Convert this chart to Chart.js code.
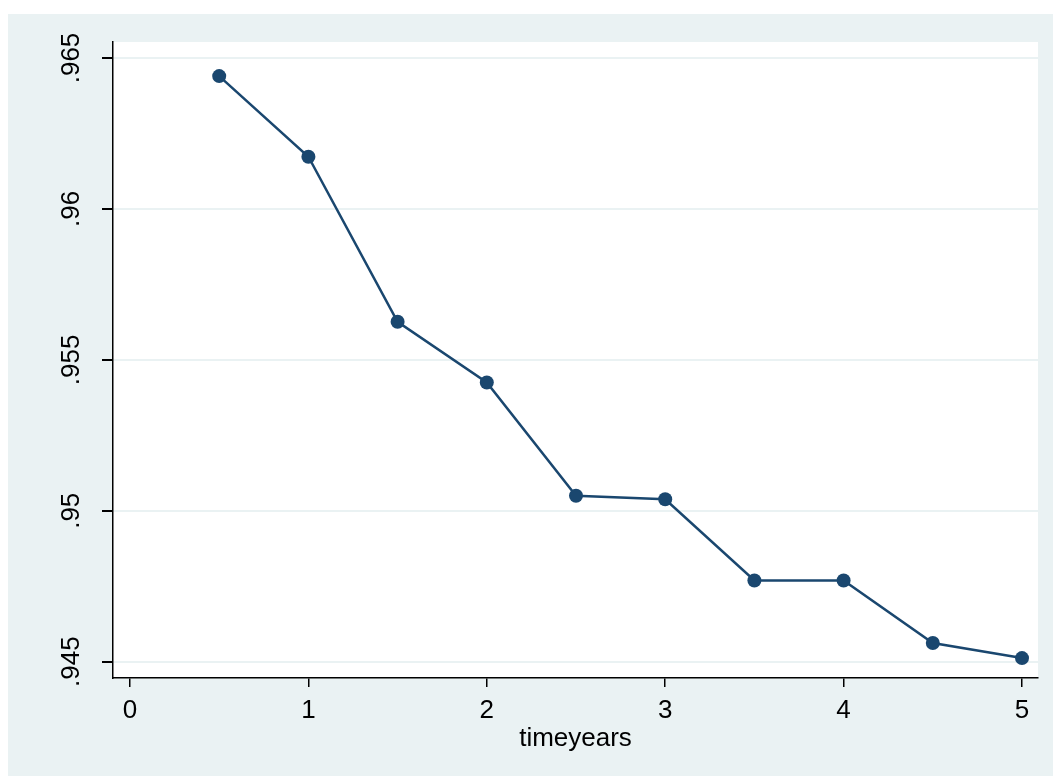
<!DOCTYPE html>
<html>
<head>
<meta charset="utf-8">
<script src="https://cdn.jsdelivr.net/npm/chart.js@4/dist/chart.umd.min.js"></script>
<style>
  html, body { margin: 0; padding: 0; background: #ffffff; }
  #wrap { width: 1053px; height: 776px; position: relative; }
</style>
</head>
<body>
<div id="wrap"><canvas id="c" width="1053" height="776"></canvas></div>
<script>
const timeyears = [0.5, 1, 1.5, 2, 2.5, 3, 3.5, 4, 4.5, 5];
const survival = [0.9644, 0.96173, 0.95626, 0.95425, 0.9505, 0.95038, 0.94769, 0.94769, 0.94562, 0.94512];
const xTicks = [0, 1, 2, 3, 4, 5];
const yTicks = [0.945, 0.95, 0.955, 0.96, 0.965];
const yTickLabels = ['.945', '.95', '.955', '.96', '.965'];
const xTitle = 'timeyears';

const BG = '#EAF2F3';
const LINE = '#1A476F';
const FONT = 'Liberation Sans, Arial, Helvetica, sans-serif';

const bgPlugin = {
  id: 'bg',
  beforeDraw(chart) {
    const ctx = chart.ctx;
    const a = chart.chartArea;
    ctx.save();
    ctx.fillStyle = '#ffffff';
    ctx.fillRect(0, 0, chart.width, chart.height);
    ctx.fillStyle = BG;
    ctx.fillRect(8, 14, chart.width - 8, chart.height - 14);
    ctx.fillStyle = '#ffffff';
    ctx.fillRect(a.left, a.top, a.right - a.left, a.bottom - a.top);
    ctx.restore();
  }
};

new Chart(document.getElementById('c'), {
  type: 'scatter',
  data: {
    datasets: [{
      data: timeyears.map((t, i) => ({ x: t, y: survival[i] })),
      showLine: true,
      borderColor: LINE,
      backgroundColor: LINE,
      borderWidth: 2.5,
      pointRadius: 7,
      pointBorderWidth: 0,
      pointHoverRadius: 7
    }]
  },
  options: {
    responsive: false,
    animation: false,
    devicePixelRatio: 1,
    layout: { padding: { top: 42, right: 15, bottom: 0, left: 0 } },
    plugins: { legend: { display: false }, tooltip: { enabled: false } },
    scales: {
      x: {
        type: 'linear',
        min: -0.0953,
        max: 5.0897,
        afterBuildTicks(scale) { scale.ticks = xTicks.map(v => ({ value: v })); },
        afterFit(scale) { scale.height = 98; },
        border: { display: true, color: '#000000', width: 1.5 },
        grid: { drawOnChartArea: false, color: '#000000', tickColor: '#000000', tickLength: 9, lineWidth: 1.5 },
        ticks: {
          color: '#000000',
          font: { family: FONT, size: 26 },
          padding: 8,
          maxRotation: 0,
          minRotation: 0,
          callback: v => String(v)
        },
        title: {
          display: true,
          text: xTitle,
          color: '#000000',
          font: { family: FONT, size: 26 },
          padding: { top: 0, bottom: 22 }
        }
      },
      y: {
        type: 'linear',
        min: 0.94446,
        max: 0.96553,
        afterBuildTicks(scale) { scale.ticks = yTicks.map(v => ({ value: v })); },
        afterFit(scale) { scale.width = 113; },
        border: { display: true, color: '#000000', width: 1.5 },
        grid: { color: BG, tickColor: '#000000', tickLength: 11, lineWidth: 2 },
        ticks: {
          color: '#000000',
          font: { family: FONT, size: 26 },
          padding: 5,
          minRotation: 90,
          maxRotation: 90,
          crossAlign: 'center',
          callback: v => yTickLabels[yTicks.findIndex(t => Math.abs(t - v) < 1e-9)]
        }
      }
    }
  },
  plugins: [bgPlugin]
});
</script>
</body>
</html>
